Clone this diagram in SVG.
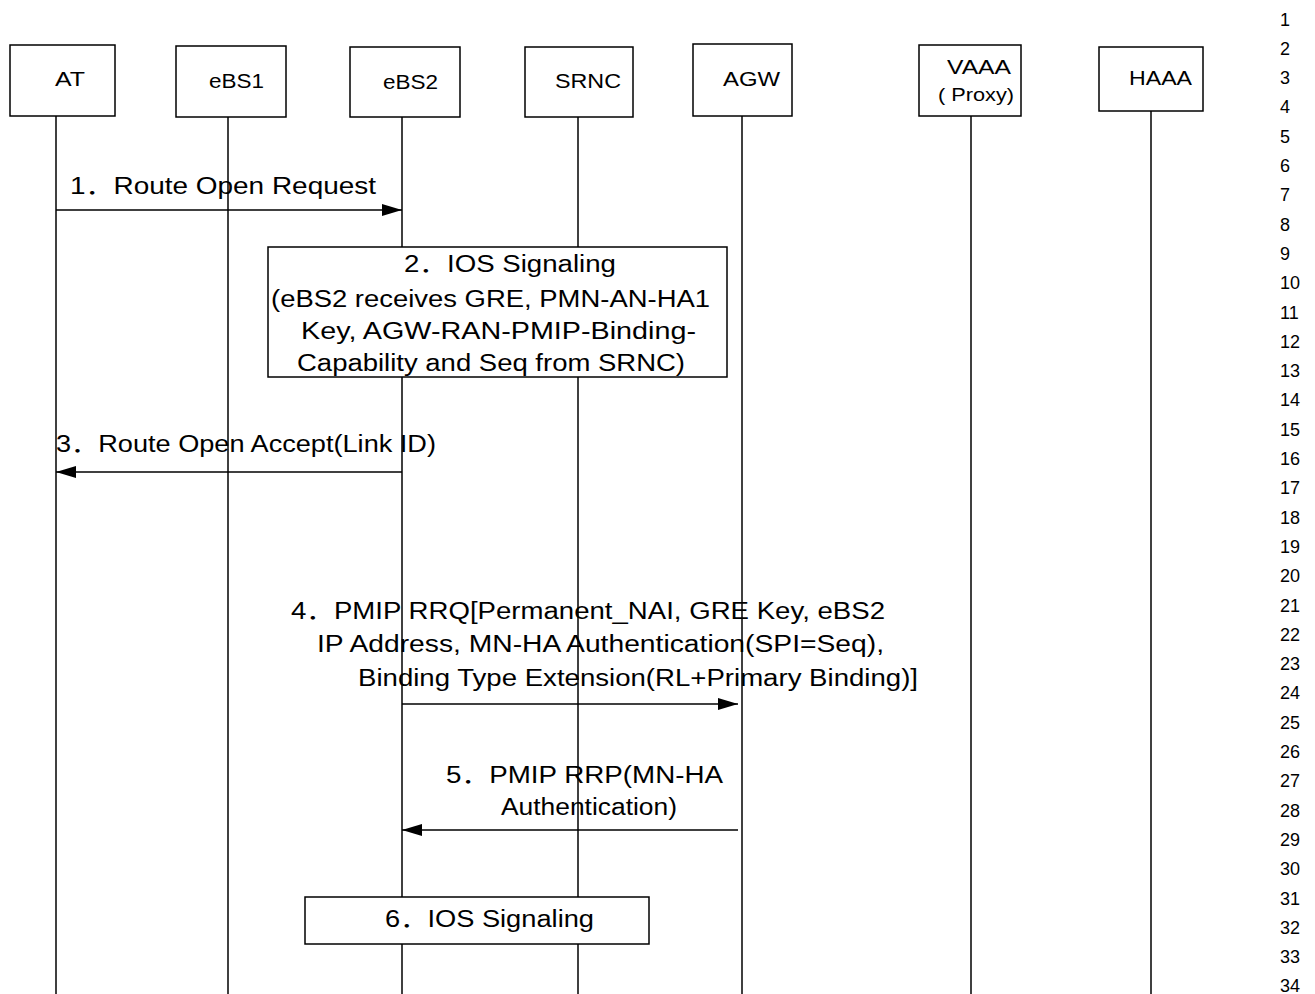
<svg xmlns="http://www.w3.org/2000/svg" width="1315" height="994" viewBox="0 0 1315 994">
  <defs>
    <style>
      .box { fill: #fff; stroke: #000; stroke-width: 1.5; }
      .life { stroke: #000; stroke-width: 1.5; fill: none; }
      .msg { stroke: #000; stroke-width: 1.5; fill: none; }
      .hd { font-family: "Liberation Sans", Arial, sans-serif; font-size: 20px; fill: #000; }
      .tx { font-family: "Liberation Sans", Arial, "Noto Sans CJK SC", sans-serif; font-size: 23px; fill: #000; }
      .ln { font-family: "Liberation Sans", Arial, sans-serif; font-size: 18px; fill: #000; }
    </style>
    <marker id="arrow" markerWidth="20" markerHeight="12" refX="20" refY="6" orient="auto" markerUnits="userSpaceOnUse">
      <path d="M0,0 L20,6 L0,12 Z" fill="#000"/>
    </marker>
  </defs>
  <rect width="1315" height="994" fill="#fff"/>

  <!-- lifelines -->
  <g id="lifelines">
    <line class="life" x1="56" y1="116" x2="56" y2="994"/>
    <line class="life" x1="228" y1="117" x2="228" y2="994"/>
    <line class="life" x1="402" y1="117" x2="402" y2="994"/>
    <line class="life" x1="578" y1="117" x2="578" y2="994"/>
    <line class="life" x1="742" y1="116" x2="742" y2="994"/>
    <line class="life" x1="971" y1="116" x2="971" y2="994"/>
    <line class="life" x1="1151" y1="111" x2="1151" y2="994"/>
  </g>

  <!-- participants -->
  <g id="node-at">
    <rect class="box" x="10" y="45" width="105" height="71"/>
    <text class="hd" x="55" y="86" textLength="30" lengthAdjust="spacingAndGlyphs">AT</text>
  </g>
  <g id="node-ebs1">
    <rect class="box" x="176" y="46" width="110" height="71"/>
    <text class="hd" x="209" y="88" textLength="55" lengthAdjust="spacingAndGlyphs">eBS1</text>
  </g>
  <g id="node-ebs2">
    <rect class="box" x="350" y="47" width="110" height="70"/>
    <text class="hd" x="383" y="89" textLength="55" lengthAdjust="spacingAndGlyphs">eBS2</text>
  </g>
  <g id="node-srnc">
    <rect class="box" x="525" y="47" width="108" height="70"/>
    <text class="hd" x="555" y="88" textLength="66" lengthAdjust="spacingAndGlyphs">SRNC</text>
  </g>
  <g id="node-agw">
    <rect class="box" x="693" y="44" width="99" height="72"/>
    <text class="hd" x="723" y="86" textLength="57" lengthAdjust="spacingAndGlyphs">AGW</text>
  </g>
  <g id="node-vaaa">
    <rect class="box" x="919" y="45" width="102" height="71"/>
    <text class="hd" x="947" y="74" textLength="64" lengthAdjust="spacingAndGlyphs">VAAA</text>
    <text class="hd" x="938" y="101" textLength="76" lengthAdjust="spacingAndGlyphs" style="font-size:18px">( Proxy)</text>
  </g>
  <g id="node-haaa">
    <rect class="box" x="1099" y="47" width="104" height="64"/>
    <text class="hd" x="1129" y="85" textLength="63" lengthAdjust="spacingAndGlyphs">HAAA</text>
  </g>

  <!-- messages -->
  <g id="connectors">
    <line class="msg" x1="56" y1="210" x2="402" y2="210" marker-end="url(#arrow)"/>
    <line class="msg" x1="402" y1="472" x2="56" y2="472" marker-end="url(#arrow)"/>
    <line class="msg" x1="402" y1="704" x2="738" y2="704" marker-end="url(#arrow)"/>
    <line class="msg" x1="738" y1="830" x2="402" y2="830" marker-end="url(#arrow)"/>
  </g>

  <g id="label-1">
    <text class="tx" x="70" y="194" textLength="306" lengthAdjust="spacingAndGlyphs">1．Route Open Request</text>
  </g>

  <g id="step-2">
    <rect class="box" x="268" y="247" width="459" height="130"/>
    <text class="tx" x="404" y="272" textLength="212" lengthAdjust="spacingAndGlyphs">2．IOS Signaling</text>
    <text class="tx" x="271" y="307" textLength="439" lengthAdjust="spacingAndGlyphs">(eBS2 receives GRE, PMN-AN-HA1</text>
    <text class="tx" x="301" y="339" textLength="395" lengthAdjust="spacingAndGlyphs">Key, AGW-RAN-PMIP-Binding-</text>
    <text class="tx" x="297" y="371" textLength="388" lengthAdjust="spacingAndGlyphs">Capability and Seq from SRNC)</text>
  </g>

  <g id="label-3">
    <text class="tx" x="56" y="452" textLength="380" lengthAdjust="spacingAndGlyphs">3．Route Open Accept(Link ID)</text>
  </g>

  <g id="label-4">
    <text class="tx" x="291" y="619" textLength="594" lengthAdjust="spacingAndGlyphs">4．PMIP RRQ[Permanent_NAI, GRE Key, eBS2</text>
    <text class="tx" x="317" y="652" textLength="567" lengthAdjust="spacingAndGlyphs">IP Address, MN-HA Authentication(SPI=Seq),</text>
    <text class="tx" x="358" y="686" textLength="560" lengthAdjust="spacingAndGlyphs">Binding Type Extension(RL+Primary Binding)]</text>
  </g>

  <g id="label-5">
    <text class="tx" x="446" y="783" textLength="277" lengthAdjust="spacingAndGlyphs">5．PMIP RRP(MN-HA</text>
    <text class="tx" x="501" y="815" textLength="176" lengthAdjust="spacingAndGlyphs">Authentication)</text>
  </g>

  <g id="step-6">
    <rect class="box" x="305" y="897" width="344" height="47"/>
    <text class="tx" x="385" y="927" textLength="209" lengthAdjust="spacingAndGlyphs">6．IOS Signaling</text>
  </g>

  <!-- line numbering in the right margin -->
  <g id="line-numbers" class="ln">
    <text x="1280" y="25.5">1</text>
    <text x="1280" y="54.8">2</text>
    <text x="1280" y="84.1">3</text>
    <text x="1280" y="113.4">4</text>
    <text x="1280" y="142.7">5</text>
    <text x="1280" y="172">6</text>
    <text x="1280" y="201.3">7</text>
    <text x="1280" y="230.6">8</text>
    <text x="1280" y="259.9">9</text>
    <text x="1280" y="289.2">10</text>
    <text x="1280" y="318.5">11</text>
    <text x="1280" y="347.8">12</text>
    <text x="1280" y="377.1">13</text>
    <text x="1280" y="406.4">14</text>
    <text x="1280" y="435.7">15</text>
    <text x="1280" y="465">16</text>
    <text x="1280" y="494.3">17</text>
    <text x="1280" y="523.6">18</text>
    <text x="1280" y="552.9">19</text>
    <text x="1280" y="582.2">20</text>
    <text x="1280" y="611.5">21</text>
    <text x="1280" y="640.8">22</text>
    <text x="1280" y="670.1">23</text>
    <text x="1280" y="699.4">24</text>
    <text x="1280" y="728.7">25</text>
    <text x="1280" y="758">26</text>
    <text x="1280" y="787.3">27</text>
    <text x="1280" y="816.6">28</text>
    <text x="1280" y="845.9">29</text>
    <text x="1280" y="875.2">30</text>
    <text x="1280" y="904.5">31</text>
    <text x="1280" y="933.8">32</text>
    <text x="1280" y="963.1">33</text>
    <text x="1280" y="991.5">34</text>
  </g>
</svg>
